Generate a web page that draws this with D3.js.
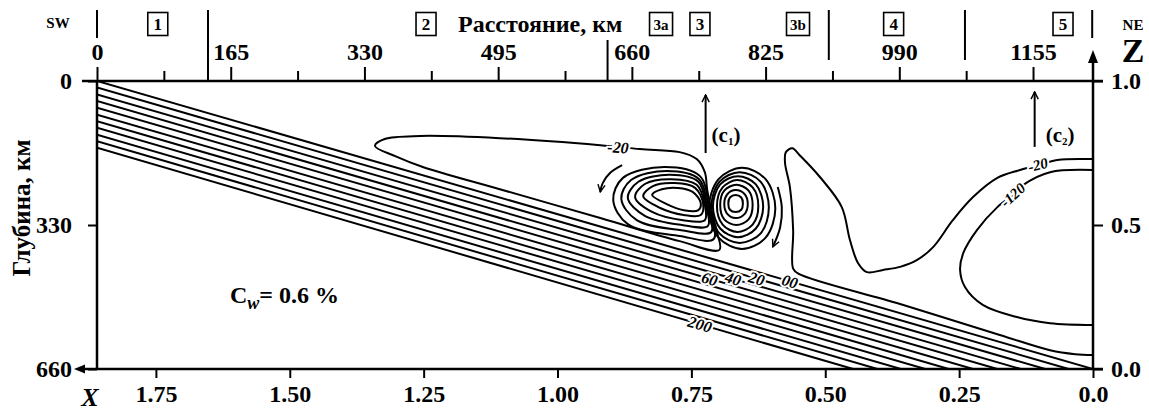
<!DOCTYPE html>
<html>
<head>
<meta charset="utf-8">
<title>Stream function section</title>
<script src="https://d3js.org/d3.v7.min.js"></script>
<style>
  body { margin: 0; background: #fff; }
  text { font-family: "Liberation Serif", "Times New Roman", serif; font-weight: bold; fill: #000; }
</style>
</head>
<body>
<div id="chart"></div>
<script>

// axes
let distTicks = [0, 165, 330, 495, 660, 825, 990, 1155];
let distMinor = [82.5, 247.5, 412.5, 577.5, 742.5, 907.5, 1072.5];
let xTicks = [1.75, 1.50, 1.25, 1.00, 0.75, 0.50, 0.25, 0.0];
let depthTicks = [0, 330, 660];
let zTicks = [0.0, 0.5, 1.0];

// zones along the profile (km)
let sectionBounds = [0, 137, 630, 903, 1071, 1228];
let zoneNames = ["1", "2", "3a", "3", "3b", "4", "5"];
let zoneDist = [75, 406, 696, 744, 865, 983, 1192];

// slab streamlines: depth at x=0 and distance where they reach 660 km
let slabValues = [0, 20, 40, 60, 80, 100, 120, 140, 160, 180, 200];
let slabLeftDepth = [0, 15, 31, 46, 61, 77, 92, 107, 123, 138, 153];
let slabBottomDist = [1229, 1199, 1170, 1140, 1111, 1081, 1051, 1022, 992, 963, 933];
let slabLabelIdx = [0, 1, 2, 3, 10];
let slabLabelText = ["00", "20", "40", "60", "200"];
let slabLabelDist = [855, 814, 785, 756, 744];

// contours [distance km, depth km]
let c20Left = [[343,149],[355,133],[399,126],[497,131],[621,147],[670,156],[719,163],[740,179],
  [750,209],[753,250],[759,303],[765,346],[768,387],[719,367],[621,314],[497,248],[402,197],[368,172]];
let c20Right = [[1229,179],[1185,181],[1161,193],[1139,204],[1111,222],[1081,266],[1056,319],[1032,380],
  [1012,410],[991,426],[970,433],[950,438],[939,417],[929,364],[919,289],[892,220],[867,170],[858,154],
  [850,163],[849,188],[855,243],[859,342],[859,430],[866,442],[991,511],[1114,582],[1176,617],[1207,626],[1229,628]];
let c120 = [[1229,204],[1176,209],[1143,238],[1130,261],[1111,289],[1086,341],[1069,394],[1065,433],
  [1071,472],[1093,513],[1135,541],[1176,555],[1229,559]];

let leftVortex = [
  [[685,261],[697,248],[717,245],[735,254],[745,280],[742,296],[724,296],[703,282]],
  [[674,264],[686,241],[713,234],[738,245],[748,282],[745,307],[724,307],[695,291]],
  [[664,266],[676,236],[709,225],[740,238],[750,284],[750,319],[723,319],[685,300]],
  [[655,268],[668,231],[707,215],[742,231],[751,284],[754,332],[722,330],[676,309]],
  [[647,270],[659,227],[703,206],[743,225],[753,287],[758,346],[721,342],[666,319]],
  [[637,273],[649,222],[700,197],[744,218],[755,289],[761,362],[719,355],[655,328]]
];
let rightVortex = [
  [[779,281],[781,267],[788,261],[795,267],[797,281],[795,295],[788,300],[781,295]],
  [[774,282],[778,259],[788,250],[799,259],[803,282],[799,305],[788,314],[778,305]],
  [[769,284],[774,251],[789,238],[804,251],[809,284],[804,317],[789,330],[774,317]],
  [[765,287],[772,244],[790,227],[809,244],[816,287],[809,329],[790,346],[772,329]],
  [[760,288],[769,237],[791,218],[813,237],[822,288],[813,338],[791,358],[769,338]],
  [[758,290],[768,231],[793,209],[819,231],[829,290],[819,349],[793,371],[768,349]],
  [[755,292],[767,225],[796,199],[825,225],[837,292],[825,359],[796,385],[767,359]]
];

let arrowLeft = [[648,193],[633,211],[624,234],[621,254]];
let arrowRight = [[840,243],[845,289],[843,335],[834,380]];
let arrowC1 = [[751,165],[751,32]];
let arrowC2 = [[1157,151],[1157,25]];
let cwPos = [164, 509];

let margin = {top: 81, left: 97};
let w = 996, h = 288;

let dist = d3.scaleLinear().domain([0, 1229]).range([0, w]);
let depth = d3.scaleLinear().domain([0, 660]).range([0, h]);
let xs = d3.scaleLinear().domain([1.86, 0]).range([0, w]);
let zs = d3.scaleLinear().domain([0, 1]).range([h, 0]);

let svg = d3.select("#chart").append("svg")
  .attr("width", 1149).attr("height", 411);

let defs = svg.append("defs");
defs.append("clipPath").attr("id", "plot")
  .append("rect").attr("width", w).attr("height", h);
defs.append("marker").attr("id", "vee")
  .attr("viewBox", "0 0 10 10").attr("refX", 9).attr("refY", 5)
  .attr("markerWidth", 9).attr("markerHeight", 9)
  .attr("markerUnits", "userSpaceOnUse").attr("orient", "auto")
  .append("path").attr("d", "M1,1 L9,5 L1,9")
  .attr("fill", "none").attr("stroke", "#000").attr("stroke-width", 1.6);

let g = svg.append("g")
  .attr("transform", "translate(" + margin.left + "," + margin.top + ")");

// axes
function styleAxis(sel) {
  sel.select(".domain").remove();
  sel.selectAll(".tick line").attr("stroke", "#000").attr("stroke-width", 2);
  sel.selectAll("text").attr("font-size", 24).attr("font-family", "Liberation Serif")
    .attr("font-weight", "bold").attr("fill", "#000");
}

let topAx = g.append("g").call(d3.axisTop(dist).tickValues(distTicks).tickSize(14).tickFormat(d3.format("d")));
styleAxis(topAx);
topAx.selectAll("text").attr("y", -21).attr("dy", null);
let topMinor = g.append("g").call(d3.axisTop(dist).tickValues(distMinor).tickSize(10).tickFormat(""));
styleAxis(topMinor);

let botAx = g.append("g").attr("transform", "translate(0," + h + ")")
  .call(d3.axisBottom(xs).tickValues(xTicks).tickSize(9)
    .tickFormat(d => d === 0 ? "0.0" : d3.format(".2f")(d)));
styleAxis(botAx);
botAx.selectAll("text").attr("y", 33).attr("dy", null);

let leftAx = g.append("g").call(d3.axisLeft(depth).tickValues(depthTicks).tickSize(9));
styleAxis(leftAx);
leftAx.selectAll("text").attr("x", -25);

let rightAx = g.append("g").attr("transform", "translate(" + w + ",0)")
  .call(d3.axisRight(zs).tickValues(zTicks).tickSize(10).tickFormat(d3.format(".1f")));
styleAxis(rightAx);
rightAx.selectAll("text").attr("x", 18);

// frame lines
let frame = [[-15, 0, w + 10, 0], [0, 0, 0, h], [-16, h, w + 10, h], [w, h, w, -20]];
g.selectAll(".frame").data(frame).enter().append("line")
  .attr("x1", d => d[0]).attr("y1", d => d[1]).attr("x2", d => d[2]).attr("y2", d => d[3])
  .attr("stroke", "#000").attr("stroke-width", 2.5);
g.append("path").attr("d", "M-23," + h + "L-12," + (h - 4.5) + "L-12," + (h + 4.5) + "Z");
g.append("path").attr("d", "M" + w + ",-31L" + (w - 5) + ",-18L" + (w + 5) + ",-18Z");

// zone boundaries and boxes
let boundTop = [10, 10, 40, 10, 10, 10];
let boundBot = [38, 81, 81, 60, 60, 38];
svg.selectAll(".bound").data(sectionBounds).enter().append("line")
  .attr("x1", d => margin.left + dist(d)).attr("x2", d => margin.left + dist(d))
  .attr("y1", (d, i) => boundTop[i]).attr("y2", (d, i) => boundBot[i])
  .attr("stroke", "#000").attr("stroke-width", 2);

let zones = svg.selectAll(".zone").data(zoneNames).enter().append("g")
  .attr("transform", (d, i) => "translate(" + (margin.left + dist(zoneDist[i])) + ",24)");
zones.append("rect")
  .attr("x", d => d.length > 1 ? -11.5 : -10).attr("y", -11.5)
  .attr("width", d => d.length > 1 ? 23 : 20).attr("height", 23)
  .attr("fill", "#fff").attr("stroke", "#000").attr("stroke-width", 1.6);
zones.append("text").attr("text-anchor", "middle").attr("y", 6)
  .attr("font-size", d => d.length > 1 ? 15 : 17).text(d => d);

svg.append("text").attr("x", 458).attr("y", 32).attr("font-size", 24).text("Расстояние, км");
svg.append("text").attr("x", 58).attr("y", 28).attr("font-size", 15).attr("text-anchor", "middle").text("SW");
svg.append("text").attr("x", 1133).attr("y", 30).attr("font-size", 15).attr("text-anchor", "middle").text("NE");
svg.append("text").attr("x", 1133).attr("y", 62).attr("font-size", 34).attr("text-anchor", "middle").text("Z");
svg.append("text").attr("x", 90).attr("y", 406).attr("font-size", 26).attr("text-anchor", "middle")
  .attr("font-family", "Liberation Sans").attr("font-style", "italic").text("X");
svg.append("text").attr("transform", "translate(30,208) rotate(-90)")
  .attr("text-anchor", "middle").attr("font-size", 25).text("Глубина, км");

// contours
let plot = g.append("g").attr("clip-path", "url(#plot)");
let line = d3.line().x(d => dist(d[0])).y(d => depth(d[1]));
let smooth = d3.line().x(d => dist(d[0])).y(d => depth(d[1])).curve(d3.curveCatmullRom.alpha(0.5));
let loop = d3.line().x(d => dist(d[0])).y(d => depth(d[1])).curve(d3.curveCatmullRomClosed.alpha(0.5));

let slabLines = slabValues.map((v, i) => [[0, slabLeftDepth[i]], [slabBottomDist[i], 660]]);
plot.selectAll(".slab").data(slabLines).enter().append("path")
  .attr("d", line).attr("fill", "none").attr("stroke", "#000").attr("stroke-width", 2);

plot.append("path").attr("d", loop(c20Left)).attr("fill", "none").attr("stroke", "#000").attr("stroke-width", 2);
plot.append("path").attr("d", smooth(c20Right)).attr("fill", "none").attr("stroke", "#000").attr("stroke-width", 2);
plot.append("path").attr("d", smooth(c120)).attr("fill", "none").attr("stroke", "#000").attr("stroke-width", 2);
plot.selectAll(".lv").data(leftVortex.concat(rightVortex)).enter().append("path")
  .attr("d", loop).attr("fill", "none").attr("stroke", "#000").attr("stroke-width", 2);

// flow arrows
[arrowLeft, arrowRight].forEach(a => {
  g.append("path").attr("d", smooth(a)).attr("fill", "none").attr("stroke", "#000")
    .attr("stroke-width", 2).attr("marker-end", "url(#vee)");
});
[arrowC1, arrowC2].forEach(a => {
  g.append("path").attr("d", line(a)).attr("fill", "none").attr("stroke", "#000")
    .attr("stroke-width", 2).attr("marker-end", "url(#vee)");
});

function cLabel(a, sub, dx, dy) {
  let t = g.append("text").attr("x", dist(a[0][0]) + dx).attr("y", depth(a[0][1]) + dy).attr("font-size", 21);
  t.append("tspan").text("(c");
  t.append("tspan").attr("font-size", 11).attr("dy", 3).text(sub);
  t.append("tspan").attr("dy", -3).text(")");
}
cLabel(arrowC1, "1", 6, -11);
cLabel(arrowC2, "2", 11, -5);

// contour labels
function contourLabel(x, y, txt, angle, size) {
  g.append("text").attr("transform", "translate(" + x + "," + y + ") rotate(" + angle + ")")
    .attr("text-anchor", "middle").attr("dy", "0.35em")
    .attr("font-size", size).attr("font-style", "italic")
    .attr("stroke", "#fff").attr("stroke-width", 4).attr("paint-order", "stroke")
    .text(txt);
}
slabLabelIdx.forEach((i, j) => {
  let x0 = dist(0), y0 = depth(slabLeftDepth[i]);
  let x1 = dist(slabBottomDist[i]), y1 = depth(660);
  let d = slabLeftDepth[i] + (660 - slabLeftDepth[i]) * slabLabelDist[j] / slabBottomDist[i];
  let ang = Math.atan2(y1 - y0, x1 - x0) * 180 / Math.PI;
  contourLabel(dist(slabLabelDist[j]), depth(d), slabLabelText[j], ang, 16);
});
contourLabel(dist(643), depth(152), "-20", 4, 16);
contourLabel(dist(1161), depth(192), "-20", -14, 15);
contourLabel(dist(1130), depth(261), "-120", -42, 15);

// concentration label
let cw = g.append("text").attr("x", dist(cwPos[0])).attr("y", depth(cwPos[1])).attr("font-size", 24);
cw.append("tspan").text("C");
cw.append("tspan").attr("font-size", 18).attr("font-style", "italic").attr("dy", 6).text("w");
cw.append("tspan").attr("dy", -6).text("= 0.6 %");

</script>
</body>
</html>
